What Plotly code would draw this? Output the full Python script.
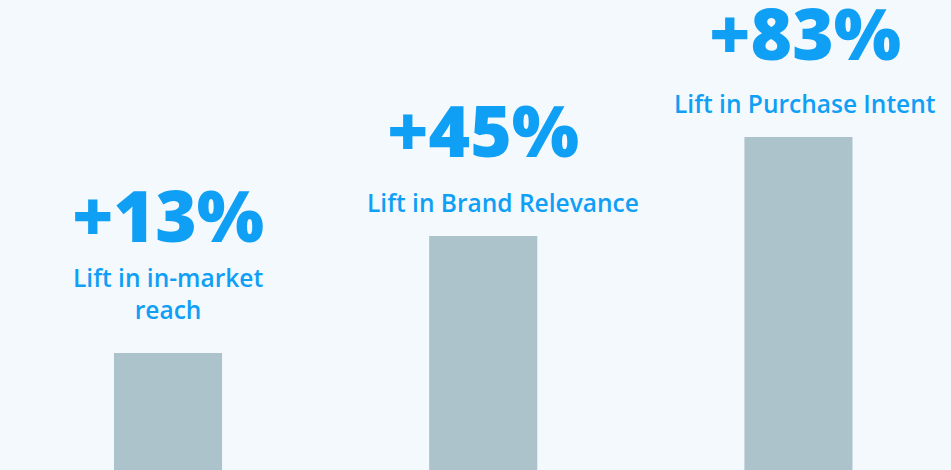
import plotly.graph_objects as go

categories = ["in-market reach", "Brand Relevance", "Purchase Intent"]
lift_labels = ["+13%", "+45%", "+83%"]
descriptions = ["Lift in in-market<br>reach", "Lift in Brand Relevance", "Lift in Purchase Intent"]
bar_heights = [117, 234, 333]

BAR = "#adc3cb"
BLUE = "#0f9ff5"
BG = "#f4f9fd"
FONT = "Open Sans"

x = list(range(len(categories)))

fig = go.Figure(go.Bar(
    x=x, y=bar_heights, width=0.343,
    marker=dict(color=BAR, line=dict(width=0)),
    hoverinfo="skip",
))

big_shift = [88, 56, 54]
big_xshift = [0, 0, 7]
sub_shift = [25, 15, 15]
sub_xshift = [0, 20, 7]
for i in x:
    fig.add_annotation(x=i, y=bar_heights[i], xref="x", yref="y",
                       text=lift_labels[i], showarrow=False,
                       yanchor="bottom", xanchor="center",
                       yshift=big_shift[i], xshift=big_xshift[i],
                       font=dict(family=FONT, size=71, color=BLUE, weight=800))
    fig.add_annotation(x=i, y=bar_heights[i], xref="x", yref="y",
                       text=descriptions[i], showarrow=False,
                       yanchor="bottom", xanchor="center",
                       yshift=sub_shift[i], xshift=sub_xshift[i],
                       font=dict(family=FONT, size=24.5, color=BLUE, weight=600))

fig.update_layout(
    width=951, height=470,
    margin=dict(l=0, r=0, t=0, b=0),
    paper_bgcolor=BG, plot_bgcolor=BG,
    showlegend=False,
    xaxis=dict(range=[-0.533, 2.484], visible=False, fixedrange=True),
    yaxis=dict(range=[0, 470], visible=False, fixedrange=True),
)

fig.write_html("out.html", config={"displayModeBar": False},
               post_script="document.body.style.margin='0';document.body.style.background='%s';" % BG)
